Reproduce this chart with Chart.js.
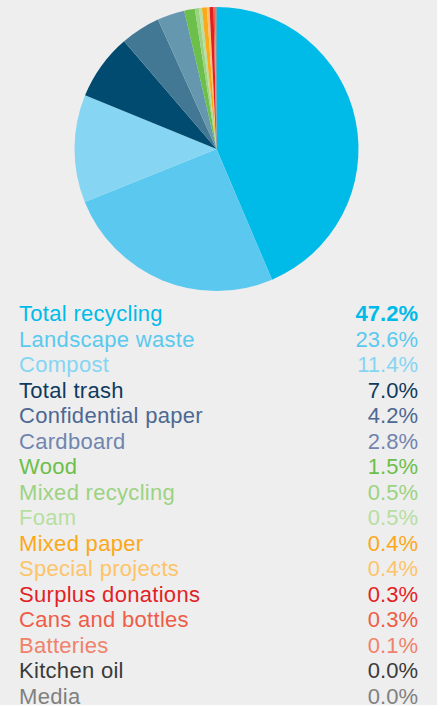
<!DOCTYPE html>
<html>
<head>
<meta charset="utf-8">
<script src="https://cdn.jsdelivr.net/npm/chart.js@4"></script>
<style>
  body { margin: 0; background: #eeeeee; width: 437px; height: 705px; overflow: hidden; position: relative; font-family: "Liberation Sans", Arial, sans-serif; }
  #pieBox { position: absolute; left: 0; top: 0; width: 437px; height: 292px; }
  #legend { position: absolute; left: 19px; top: 301px; width: 399px; }
  .row { display: flex; justify-content: space-between; font-size: 22px; line-height: 25.5px; height: 25.5px; white-space: nowrap; }
  .row .name { letter-spacing: 0.3px; }
</style>
</head>
<body>
<div id="pieBox"><canvas id="wasteChart"></canvas></div>
<div id="legend"></div>
<script>
const categories = ['Total recycling', 'Landscape waste', 'Compost', 'Total trash', 'Confidential paper',
  'Cardboard', 'Wood', 'Mixed recycling', 'Foam', 'Mixed paper', 'Special projects',
  'Surplus donations', 'Cans and bottles', 'Batteries', 'Kitchen oil', 'Media'];

// percentages printed in the list
const shares = [47.2, 23.6, 11.4, 7.0, 4.2, 2.8, 1.5, 0.5, 0.5, 0.4, 0.4, 0.3, 0.3, 0.1, 0.0, 0.0];

// slice sizes as drawn in the pie (measured from the angles)
const sliceValues = [43.4, 25.2, 12.2, 7.5, 4.5, 3.1, 1.2, 0.45, 0.35, 0.55, 0.3, 0.45, 0.15, 0.1, 0.04, 0.04];

const sliceColors = ['#00bbe8', '#5bc9ef', '#86d5f3', '#004b6f', '#427893', '#6598ae', '#6cbf4a', '#9cd382',
  '#b6dfa1', '#fba819', '#fdc46a', '#e21f26', '#ee5d47', '#f0826c', '#3a3a3a', '#808080'];
const textColors = ['#00bbe8', '#5bc9ef', '#86d5f3', '#0f3b5f', '#4d6892', '#7185ae', '#6cbf4a', '#9cd382',
  '#b6dfa1', '#fba819', '#fdc46a', '#e21f26', '#ee5d47', '#f0826c', '#3a3a3a', '#808080'];

const ctx = document.getElementById('wasteChart').getContext('2d');

new Chart(ctx, {
  type: 'pie',
  data: {
    labels: categories,
    datasets: [{
      data: sliceValues,
      backgroundColor: sliceColors,
      borderWidth: 0,
      hoverOffset: 0
    }]
  },
  options: {
    responsive: true,
    maintainAspectRatio: false,
    animation: false,
    layout: { padding: { top: 7, bottom: 1, left: 0, right: 4 } },
    plugins: {
      legend: { display: false },
      tooltip: { enabled: false }
    }
  }
});

// list under the pie
const legend = document.getElementById('legend');
categories.forEach((name, i) => {
  const row = document.createElement('div');
  row.className = 'row';
  row.style.color = textColors[i];
  const label = document.createElement('span');
  label.className = 'name';
  label.textContent = name;
  const pct = document.createElement('span');
  pct.textContent = shares[i].toFixed(1) + '%';
  if (i === 0) pct.style.fontWeight = 'bold';
  row.appendChild(label);
  row.appendChild(pct);
  legend.appendChild(row);
});
</script>
</body>
</html>
